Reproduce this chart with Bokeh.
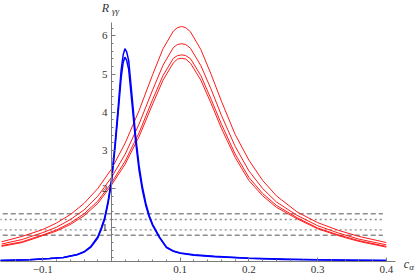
from bokeh.plotting import figure
from bokeh.models import LinearAxis, FixedTicker, CustomJSTickFormatter, Range1d, Label, ColumnDataSource
from bokeh.embed import file_html
from bokeh.resources import INLINE

# ---------------- data ----------------
red_x = [-0.16, -0.13, -0.10, -0.08, -0.06, -0.04, -0.02, 0.0, 0.02, 0.04, 0.06, 0.075, 0.09, 0.096,
         0.102, 0.108, 0.115, 0.13, 0.145, 0.16, 0.18, 0.20, 0.22, 0.24, 0.27, 0.30, 0.33, 0.36, 0.40]
red_1 = [0.62, 0.76, 0.94, 1.11, 1.33, 1.62, 2.01, 2.52, 3.20, 4.04, 4.99, 5.66, 6.12, 6.21,
         6.24, 6.21, 6.10, 5.64, 4.99, 4.29, 3.42, 2.75, 2.22, 1.82, 1.40, 1.12, 0.92, 0.76, 0.60]
red_2 = [0.56, 0.68, 0.86, 1.00, 1.20, 1.45, 1.81, 2.30, 2.91, 3.69, 4.59, 5.23, 5.69, 5.77,
         5.79, 5.77, 5.67, 5.22, 4.60, 3.92, 3.11, 2.47, 2.01, 1.66, 1.31, 1.04, 0.85, 0.69, 0.54]
red_3 = [0.52, 0.62, 0.80, 0.93, 1.11, 1.35, 1.68, 2.16, 2.73, 3.46, 4.34, 4.96, 5.41, 5.48,
         5.50, 5.48, 5.40, 4.96, 4.34, 3.69, 2.91, 2.30, 1.88, 1.57, 1.25, 0.98, 0.80, 0.65, 0.50]
red_4 = [0.50, 0.60, 0.78, 0.90, 1.07, 1.30, 1.62, 2.10, 2.65, 3.36, 4.22, 4.84, 5.29, 5.39,
         5.41, 5.39, 5.28, 4.84, 4.23, 3.58, 2.82, 2.22, 1.82, 1.52, 1.22, 0.96, 0.78, 0.63, 0.48]

blue_x = [-0.17, -0.12, -0.09, -0.07, -0.05, -0.04, -0.03, -0.02, -0.015, -0.01, -0.005, 0.0, 0.005,
          0.01, 0.014, 0.017, 0.0195, 0.022, 0.025, 0.03, 0.035, 0.04, 0.045, 0.05, 0.055, 0.06,
          0.07, 0.08, 0.09, 0.10, 0.12, 0.15, 0.20, 0.25, 0.30, 0.35, 0.40]
blue_1 = [0.13, 0.15, 0.18, 0.21, 0.29, 0.36, 0.50, 0.75, 0.98, 1.25, 1.68, 2.25, 3.15,
          4.20, 5.10, 5.50, 5.66, 5.58, 5.35, 4.40, 3.40, 2.62, 2.05, 1.62, 1.30, 1.07,
          0.74, 0.48, 0.38, 0.33, 0.28, 0.24, 0.19, 0.17, 0.15, 0.14, 0.13]
blue_2 = [0.13, 0.15, 0.18, 0.21, 0.28, 0.35, 0.48, 0.72, 0.94, 1.20, 1.62, 2.18, 3.05,
          4.05, 4.90, 5.30, 5.44, 5.36, 5.12, 4.20, 3.25, 2.50, 1.96, 1.56, 1.26, 1.04,
          0.72, 0.47, 0.37, 0.32, 0.27, 0.23, 0.19, 0.16, 0.15, 0.14, 0.13]

band_outer = [1.35, 0.79]     # dashed lines
band_inner = [1.20, 0.93]     # dotted lines
band_x_start = -0.17
band_x_end = 0.395

x_ticks = [-0.1, 0.1, 0.2, 0.3, 0.4]
y_ticks = [1, 2, 3, 4, 5, 6]

# ---------------- figure ----------------
p = figure(width=415, height=277, output_backend="svg", toolbar_location=None,
           x_range=Range1d(-0.1616, 0.4425), y_range=Range1d(-0.313, 6.919),
           x_axis_type=None, y_axis_type=None, min_border=0)
p.outline_line_color = None
p.background_fill_color = "white"
p.border_fill_color = "white"

AX = "#7a7a7a"
LBL = "#333333"
FONT = "'Liberation Serif', serif"

x_minor = [round(-0.14 + 0.02 * i, 2) for i in range(28)]
x_minor = [v for v in x_minor if abs(v) > 1e-9 and all(abs(v - t) > 1e-9 for t in x_ticks)]
y_minor = [round(0.2 * i, 1) for i in range(1, 32) if i % 5]

xaxis = LinearAxis(fixed_location=0.1, bounds=(-0.17, 0.413),
                   ticker=FixedTicker(ticks=x_ticks, minor_ticks=x_minor),
                   formatter=CustomJSTickFormatter(code="return tick < 0 ? '\u2212' + Math.abs(tick).toFixed(1) : tick.toFixed(1);"))
yaxis = LinearAxis(fixed_location=0, bounds=(0.1, 6.34),
                   ticker=FixedTicker(ticks=y_ticks, minor_ticks=y_minor),
                   formatter=CustomJSTickFormatter(code="return tick.toFixed(0);"))
for ax in (xaxis, yaxis):
    ax.axis_line_color = AX
    ax.axis_line_width = 1
    ax.major_tick_line_color = AX
    ax.minor_tick_line_color = AX
    ax.major_tick_in = 4
    ax.major_tick_out = 0
    ax.minor_tick_in = 2
    ax.minor_tick_out = 0
    ax.major_label_text_font = FONT
    ax.major_label_text_font_size = "11px"
    ax.major_label_text_color = LBL
    ax.major_label_standoff = 4
p.add_layout(xaxis, "below")
p.add_layout(yaxis, "left")

# reference band
for lvl in band_outer:
    p.segment(x0=band_x_start, y0=lvl, x1=band_x_end, y1=lvl, line_color="#8c8c8c",
              line_width=1.4, line_dash="5 3")
for lvl in band_inner:
    p.segment(x0=band_x_start, y0=lvl, x1=band_x_end, y1=lvl, line_color="#8c8c8c",
              line_width=1.4, line_dash="2 3")

src_red = ColumnDataSource(dict(x=red_x, a=red_1, b=red_2, c=red_3, d=red_4))
for col in ("a", "b", "c", "d"):
    p.line("x", col, source=src_red, line_color="#ff1a1a", line_width=1.0)

src_blue = ColumnDataSource(dict(x=blue_x, a=blue_1, b=blue_2))
for col in ("a", "b"):
    p.line("x", col, source=src_blue, line_color="#0000ff", line_width=1.5)

# axis labels
p.add_layout(Label(x=0, y=6.73, x_offset=-6, text="R", text_font=FONT, text_font_style="italic",
                   text_font_size="12px", text_color=LBL, text_align="center", text_baseline="middle"))
p.add_layout(Label(x=0, y=6.64, x_offset=4, text="γγ", text_font=FONT, text_font_style="italic",
                   text_font_size="9px", text_color=LBL, text_align="center", text_baseline="middle"))
p.add_layout(Label(x=0.4294, y=0.03, text="c", text_font=FONT,
                   text_font_style="italic", text_font_size="12px", text_color=LBL,
                   text_align="center", text_baseline="middle"))
p.add_layout(Label(x=0.4367, y=-0.04, text="α", text_font=FONT,
                   text_font_style="italic", text_font_size="9px", text_color=LBL,
                   text_align="center", text_baseline="middle"))

open("out.html", "w", encoding="utf-8").write(file_html(p, INLINE))
